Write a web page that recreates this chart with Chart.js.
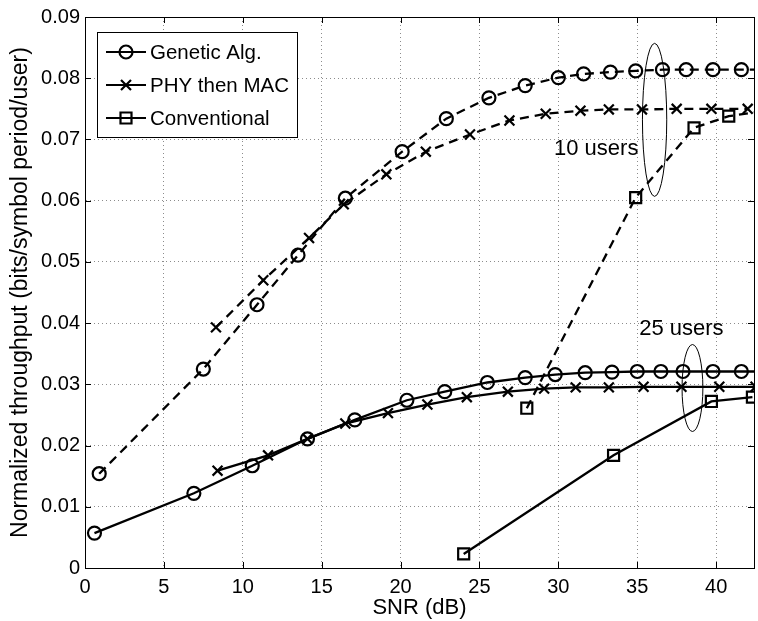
<!DOCTYPE html>
<html>
<head>
<meta charset="utf-8">
<script src="https://cdn.jsdelivr.net/npm/chart.js@4.4.0/dist/chart.umd.min.js"></script>
<style>
  html, body { margin: 0; padding: 0; background: #fff; overflow: hidden; }
  #wrap { width: 764px; height: 621px; }
</style>
</head>
<body>
<div id="wrap"><canvas id="throughputChart" width="764" height="621"></canvas></div>
<script>
// 25 users (solid)
const snrGa25 = [0.6, 6.9, 10.6, 14.1, 17.1, 20.4, 22.8, 25.5, 27.9, 29.8, 31.7, 33.4, 35.0, 36.5, 37.9, 39.8, 41.6, 43.4];
const ga25 = [0.0057, 0.0122, 0.0167, 0.0211, 0.0242, 0.0274, 0.0288, 0.0303, 0.0311, 0.0316, 0.0319, 0.0320, 0.0321, 0.0321, 0.0321, 0.0321, 0.0321, 0.0321];
const snrPhy25 = [8.4, 11.6, 14.1, 16.5, 19.2, 21.7, 24.2, 26.8, 29.1, 31.1, 33.2, 35.4, 37.8, 40.2, 42.5];
const phy25 = [0.0159, 0.0184, 0.0211, 0.0236, 0.0253, 0.0267, 0.0279, 0.0288, 0.0293, 0.0295, 0.0295, 0.0296, 0.0296, 0.0296, 0.0296];
const snrConv25 = [24.0, 33.5, 39.7, 42.3];
const conv25 = [0.0023, 0.0184, 0.0272, 0.0279];

// 10 users (dashed)
const snrGa10 = [0.9, 7.5, 10.9, 13.5, 16.5, 20.1, 22.9, 25.6, 27.9, 30.0, 31.6, 33.3, 34.9, 36.6, 38.1, 39.8, 41.6, 43.4];
const ga10 = [0.0154, 0.0325, 0.0430, 0.0511, 0.0604, 0.0680, 0.0734, 0.0768, 0.0788, 0.0801, 0.0807, 0.0810, 0.0812, 0.0814, 0.0814, 0.0814, 0.0814, 0.0814];
const snrPhy10 = [8.3, 11.3, 14.2, 16.4, 19.1, 21.6, 24.4, 26.9, 29.2, 31.4, 33.2, 35.3, 37.5, 39.7, 42.0];
const phy10 = [0.0393, 0.0470, 0.0539, 0.0594, 0.0643, 0.0680, 0.0708, 0.0731, 0.0742, 0.0747, 0.0749, 0.0749, 0.0750, 0.0750, 0.0750];
const snrConv10 = [28.0, 34.9, 38.6, 40.8, 42.9];
const conv10 = [0.0261, 0.0605, 0.0719, 0.0738, 0.0746];

const legendLabels = ["Genetic Alg.", "PHY then MAC", "Conventional"];
const xTicks = [0, 5, 10, 15, 20, 25, 30, 35, 40];
const yTicks = [0, 0.01, 0.02, 0.03, 0.04, 0.05, 0.06, 0.07, 0.08, 0.09];

const FONT = "'Liberation Sans', Arial, Helvetica, sans-serif";
const markers = {
  circle: { pointStyle: "circle", pointRadius: 6.5 },
  cross: { pointStyle: "crossRot", pointRadius: 7 },
  square: { pointStyle: "rect", pointRadius: 7.8 }
};

function pts(xs, ys) {
  return xs.map((x, i) => ({ x: x, y: ys[i] }));
}

function series(xs, ys, marker, dashed) {
  return {
    data: pts(xs, ys),
    borderColor: "#000",
    borderWidth: 2.3,
    borderDash: dashed ? [9, 6] : [],
    pointStyle: markers[marker].pointStyle,
    pointRadius: markers[marker].pointRadius,
    pointHoverRadius: markers[marker].pointRadius,
    pointBorderColor: "#000",
    pointBorderWidth: 2.2,
    pointBackgroundColor: "rgba(0,0,0,0)",
    tension: 0,
    fill: false
  };
}

// group labels and their ellipses, in data units
const groups = [
  { text: "10 users", tx: 32.4, ty: 0.0684, cx: 36.1, cy: 0.0732, rx: 0.77, ry: 0.0125 },
  { text: "25 users", tx: 37.8, ty: 0.0391, cx: 38.5, cy: 0.0294, rx: 0.66, ry: 0.0071 }
];

function drawMarker(ctx, style, x, y) {
  ctx.beginPath();
  if (style === "circle") {
    ctx.arc(x, y, 6.5, 0, Math.PI * 2);
  } else if (style === "crossRot") {
    const d = 5;
    ctx.moveTo(x - d, y - d); ctx.lineTo(x + d, y + d);
    ctx.moveTo(x + d, y - d); ctx.lineTo(x - d, y + d);
  } else {
    ctx.rect(x - 5.5, y - 5.5, 11, 11);
  }
  ctx.stroke();
}

const decorations = {
  id: "decorations",
  afterDraw(chart) {
    const ctx = chart.ctx;
    const a = chart.chartArea;
    const xs = chart.scales.x, ys = chart.scales.y;
    ctx.save();

    // frame and inward ticks
    ctx.strokeStyle = "#000";
    ctx.lineWidth = 1;
    ctx.setLineDash([]);
    ctx.strokeRect(a.left + 0.5, a.top + 0.5, a.right - a.left, a.bottom - a.top);
    ctx.beginPath();
    xTicks.forEach(v => {
      const px = Math.round(xs.getPixelForValue(v)) + 0.5;
      ctx.moveTo(px, a.bottom); ctx.lineTo(px, a.bottom - 6);
      ctx.moveTo(px, a.top); ctx.lineTo(px, a.top + 6);
    });
    yTicks.forEach(v => {
      const py = Math.round(ys.getPixelForValue(v)) + 0.5;
      ctx.moveTo(a.left, py); ctx.lineTo(a.left + 6, py);
      ctx.moveTo(a.right, py); ctx.lineTo(a.right - 6, py);
    });
    ctx.stroke();

    // group ellipses and labels
    ctx.font = "22px " + FONT;
    ctx.fillStyle = "#000";
    ctx.textAlign = "center";
    ctx.textBaseline = "middle";
    groups.forEach(g => {
      const cx = xs.getPixelForValue(g.cx), cy = ys.getPixelForValue(g.cy);
      const rx = Math.abs(xs.getPixelForValue(g.cx + g.rx) - cx);
      const ry = Math.abs(ys.getPixelForValue(g.cy + g.ry) - cy);
      ctx.beginPath();
      ctx.ellipse(cx, cy, rx, ry, 0, 0, Math.PI * 2);
      ctx.lineWidth = 1;
      ctx.stroke();
      ctx.fillText(g.text, xs.getPixelForValue(g.tx), ys.getPixelForValue(g.ty));
    });

    // legend box
    const lx = 97, ly = 32, lw = 200, lh = 105;
    ctx.fillStyle = "#fff";
    ctx.fillRect(lx, ly, lw, lh);
    ctx.strokeRect(lx + 0.5, ly + 0.5, lw, lh);
    const styles = ["circle", "crossRot", "rect"];
    ctx.font = "20.5px " + FONT;
    ctx.textAlign = "left";
    legendLabels.forEach((label, i) => {
      const y = ly + 20 + i * 33;
      ctx.lineWidth = 2.2;
      ctx.beginPath();
      ctx.moveTo(lx + 9, y); ctx.lineTo(lx + 49, y);
      ctx.stroke();
      drawMarker(ctx, styles[i], lx + 29, y);
      ctx.fillStyle = "#000";
      ctx.fillText(label, lx + 53, y + 1);
    });
    ctx.restore();
  }
};

// dotted grid; the solid frame is redrawn by the plugin
const gridStyle = {
  color: "rgba(0,0,0,0.45)",
  lineWidth: 1,
  drawTicks: false
};
const borderStyle = { display: true, color: "#000", width: 1, dash: [1, 3] };

new Chart(document.getElementById("throughputChart").getContext("2d"), {
  type: "line",
  data: {
    datasets: [
      series(snrGa25, ga25, "circle", false),
      series(snrPhy25, phy25, "cross", false),
      series(snrConv25, conv25, "square", false),
      series(snrGa10, ga10, "circle", true),
      series(snrPhy10, phy10, "cross", true),
      series(snrConv10, conv10, "square", true)
    ]
  },
  options: {
    responsive: false,
    animation: false,
    events: [],
    layout: { padding: { top: 15, right: 3, left: 0, bottom: 0 } },
    plugins: {
      legend: { display: false },
      tooltip: { enabled: false }
    },
    scales: {
      x: {
        type: "linear",
        min: 0,
        max: 42.4,
        afterFit: s => { s.height = 53; },
        afterBuildTicks: s => { s.ticks = xTicks.map(v => ({ value: v })); },
        grid: gridStyle,
        border: borderStyle,
        ticks: {
          color: "#000",
          font: { family: FONT, size: 20 },
          padding: 7,
          maxRotation: 0,
          autoSkip: false,
          callback: v => String(v)
        },
        title: {
          display: true,
          text: "SNR (dB)",
          color: "#000",
          font: { family: FONT, size: 22 },
          padding: { top: 0, bottom: 0 }
        }
      },
      y: {
        min: 0,
        max: 0.09,
        afterFit: s => { s.width = 85; },
        afterBuildTicks: s => { s.ticks = yTicks.map(v => ({ value: v })); },
        grid: gridStyle,
        border: borderStyle,
        ticks: {
          color: "#000",
          font: { family: FONT, size: 20 },
          padding: 5,
          autoSkip: false,
          callback: v => (v === 0 ? "0" : v.toFixed(2))
        },
        title: {
          display: true,
          text: "Normalized throughput (bits/symbol period/user)",
          color: "#000",
          font: { family: FONT, size: 23 },
          padding: { top: 7, bottom: 0 }
        }
      }
    }
  },
  plugins: [decorations]
});
</script>
</body>
</html>
